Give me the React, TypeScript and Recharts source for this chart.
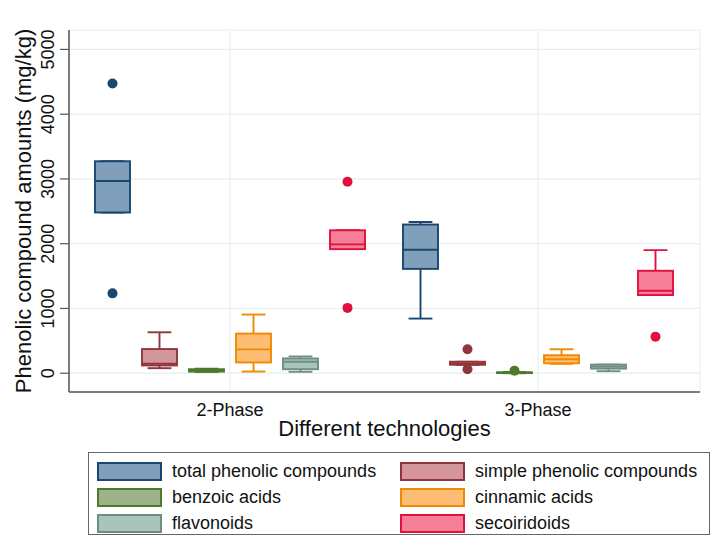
import { BarChart, Bar, XAxis, YAxis, CartesianGrid, Label } from "recharts";

const categories = ["2-Phase", "3-Phase"];
const yTicks = [0, 1000, 2000, 3000, 4000, 5000];

// per category: [lower whisker, q1, median, q3, upper whisker]
const totalPhenolic = [
  [2482, 2482, 2969, 3273, 3273],
  [844, 1611, 1907, 2296, 2336],
];
const simplePhenolic = [
  [78, 120, 146, 373, 632],
  [131, 131, 150, 177, 177],
];
const benzoicAcids = [
  [20, 25, 45, 62, 70],
  [0, 3, 8, 14, 20],
];
const cinnamicAcids = [
  [26, 166, 368, 612, 906],
  [145, 154, 216, 278, 370],
];
const flavonoids = [
  [22, 62, 177, 228, 259],
  [31, 71, 102, 133, 133],
];
const secoiridoids = [
  [1916, 1916, 1989, 2207, 2207],
  [1207, 1207, 1273, 1582, 1901],
];

// outside values per category
const totalPhenolicOut = [[4475, 1233], []];
const simplePhenolicOut = [[], [370, 62]];
const benzoicAcidsOut = [[], [40]];
const cinnamicAcidsOut = [[], []];
const flavonoidsOut = [[], []];
const secoiridoidsOut = [[2958, 1009], [565]];

const series = [
  { key: "total", name: "total phenolic compounds", stats: totalPhenolic, out: totalPhenolicOut, stroke: "#1a476f", fill: "#7f9fba" },
  { key: "simple", name: "simple phenolic compounds", stats: simplePhenolic, out: simplePhenolicOut, stroke: "#90353b", fill: "#d4969b" },
  { key: "benzoic", name: "benzoic acids", stats: benzoicAcids, out: benzoicAcidsOut, stroke: "#4e7a2c", fill: "#9db48a" },
  { key: "cinnamic", name: "cinnamic acids", stats: cinnamicAcids, out: cinnamicAcidsOut, stroke: "#f08a00", fill: "#fdbd75" },
  { key: "flavonoids", name: "flavonoids", stats: flavonoids, out: flavonoidsOut, stroke: "#6e8e84", fill: "#a9c3bd" },
  { key: "secoiridoids", name: "secoiridoids", stats: secoiridoids, out: secoiridoidsOut, stroke: "#e0103f", fill: "#f67f98" },
];

const data = categories.map((name, i) => {
  const row: any = { name };
  series.forEach((s) => {
    row[s.key] = [s.stats[i][1], s.stats[i][3]];
  });
  return row;
});

function BoxShape(props: any) {
  const { x, y, width, height, s } = props;
  const i = props.index ?? categories.indexOf(props.payload?.name);
  const st = s.stats[i];
  if (!st) return null;
  const top = Math.min(y, y + height);
  const bottom = Math.max(y, y + height);
  // pixels per unit, taken from the bar the library placed for [q1, q3]
  const px = (bottom - top) / (st[3] - st[1] || 1);
  const yOf = (v: number) => bottom - (v - st[1]) * px;
  const cx = x + width / 2;
  const cap = width * 0.34;
  const sw = 1.9;
  return (
    <g>
      <line x1={cx} x2={cx} y1={yOf(st[4])} y2={top} stroke={s.stroke} strokeWidth={sw} />
      <line x1={cx} x2={cx} y1={bottom} y2={yOf(st[0])} stroke={s.stroke} strokeWidth={sw} />
      <line x1={cx - cap} x2={cx + cap} y1={yOf(st[4])} y2={yOf(st[4])} stroke={s.stroke} strokeWidth={sw} />
      <line x1={cx - cap} x2={cx + cap} y1={yOf(st[0])} y2={yOf(st[0])} stroke={s.stroke} strokeWidth={sw} />
      <rect x={x} y={top} width={width} height={bottom - top} fill={s.fill} stroke={s.stroke} strokeWidth={sw} />
      <line x1={x} x2={x + width} y1={yOf(st[2])} y2={yOf(st[2])} stroke={s.stroke} strokeWidth={sw} />
      {s.out[i].map((v: number, k: number) => (
        <circle key={k} cx={cx} cy={yOf(v)} r={5} fill={s.stroke} />
      ))}
    </g>
  );
}

function YTick(props: any) {
  const { x, y, payload } = props;
  return (
    <text
      x={x}
      y={y}
      transform={`rotate(-90 ${x} ${y})`}
      textAnchor="middle"
      fontSize={18}
      fill="#111"
    >
      {payload.value}
    </text>
  );
}

export default function App() {
  return (
    <div
      style={{
        position: "absolute",
        left: 0,
        top: 0,
        width: 724,
        height: 546,
        background: "#fff",
        fontFamily: "'Liberation Sans', Arial, sans-serif",
      }}
    >
      <BarChart
        width={724}
        height={546}
        data={data}
        margin={{ top: 30, right: 24, left: 0, bottom: 104 }}
        barGap={12}
      >
        <CartesianGrid stroke="#e7eef1" strokeWidth={1.2} />
        <XAxis
          dataKey="name"
          padding={{ left: 7, right: 8 }}
          tickLine={false}
          axisLine={{ stroke: "#555", strokeWidth: 1.5 }}
          tick={{ fontSize: 18, fill: "#111" }}
          tickMargin={5}
          height={50}
        >
          <Label value="Different technologies" position="insideBottom" offset={6} fontSize={22} fill="#111" />
        </XAxis>
        <YAxis
          width={69}
          domain={[-290, 5300]}
          ticks={yTicks}
          allowDataOverflow
          tickSize={9}
          tickMargin={6}
          tick={<YTick />}
          axisLine={{ stroke: "#555", strokeWidth: 1.5 }}
          tickLine={{ stroke: "#555", strokeWidth: 1.2 }}
        >
          <Label
            content={({ viewBox }: any) => {
              const cx = viewBox.x + 23;
              const cy = viewBox.y + viewBox.height / 2;
              return (
                <text
                  x={cx}
                  y={cy}
                  transform={`rotate(-90 ${cx} ${cy})`}
                  textAnchor="middle"
                  dominantBaseline="central"
                  fontSize={22}
                  fill="#111"
                >
                  Phenolic compound amounts (mg/kg)
                </text>
              );
            }}
          />
        </YAxis>
        {series.map((s) => (
          <Bar
            key={s.key}
            dataKey={s.key}
            name={s.name}
            barSize={35}
            isAnimationActive={false}
            shape={(p: any) => <BoxShape {...p} s={s} />}
          />
        ))}
      </BarChart>
      <div
        style={{
          position: "absolute",
          left: 88,
          top: 452,
          width: 622,
          height: 83,
          border: "1.5px solid #666",
          boxSizing: "border-box",
          display: "grid",
          gridTemplateColumns: "303px 1fr",
          gridAutoRows: "26px",
          padding: "5px 0 0 8px",
        }}
      >
        {series.map((s) => (
          <div
            key={s.key}
            style={{ display: "flex", alignItems: "center", fontSize: 18, color: "#111", whiteSpace: "nowrap" }}
          >
            <span
              style={{
                display: "inline-block",
                flexShrink: 0,
                width: 65,
                height: 19,
                boxSizing: "border-box",
                background: s.fill,
                border: `2px solid ${s.stroke}`,
                marginRight: 10,
              }}
            />
            {s.name}
          </div>
        ))}
      </div>
    </div>
  );
}
